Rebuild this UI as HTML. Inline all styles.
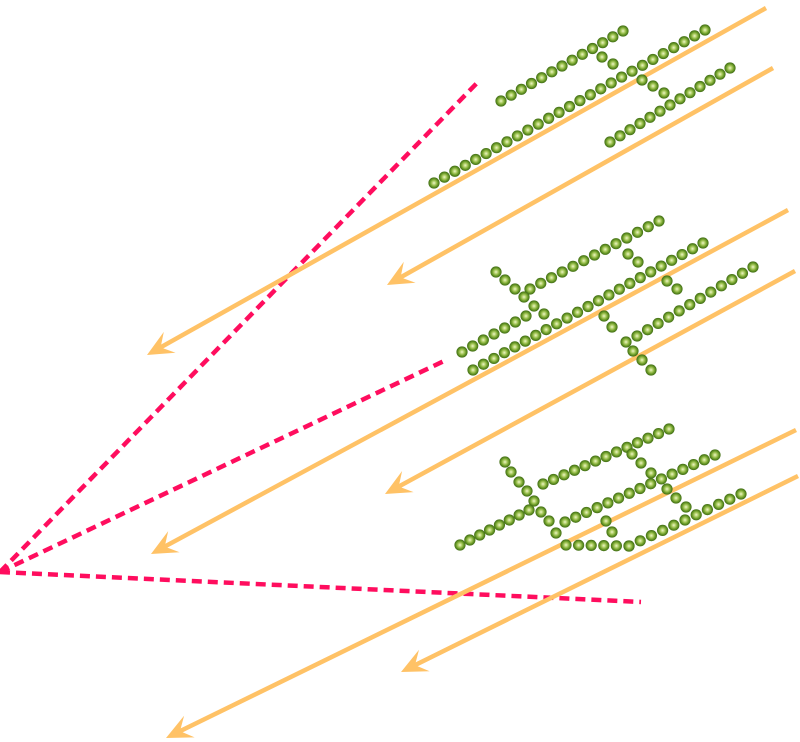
<!DOCTYPE html>
<html><head><style>html,body{margin:0;padding:0;background:#fff}svg{display:block}</style></head>
<body>
<svg id="s" width="800" height="742" viewBox="0 0 800 742" xmlns="http://www.w3.org/2000/svg">
<defs>
<radialGradient id="g"><stop offset="0" stop-color="#eef6c8"/><stop offset="0.4" stop-color="#a6c85a"/><stop offset="0.7" stop-color="#6a9a28"/><stop offset="1" stop-color="#3f6b14"/></radialGradient>
</defs>
<g stroke="#ff0d5e" stroke-width="4.5" stroke-dasharray="10,6" fill="none">
<line x1="0" y1="572" x2="477" y2="83"/>
<line x1="0" y1="572" x2="444" y2="361"/>
<line x1="0" y1="572" x2="641" y2="602"/>
</g>
<g id="arr" stroke="#ffc266" stroke-width="4.5" fill="none"></g>
<g id="beads"></g>
</svg>
<script>
var NS="http://www.w3.org/2000/svg";
var arr=document.getElementById("arr"),bd=document.getElementById("beads");
function arrow(x1,y1,x2,y2){
 var l=document.createElementNS(NS,"line");
 var dx=x2-x1,dy=y2-y1,d=Math.hypot(dx,dy),ux=dx/d,uy=dy/d;
 l.setAttribute("x1",x1);l.setAttribute("y1",y1);l.setAttribute("x2",x2-ux*8);l.setAttribute("y2",y2-uy*8);arr.appendChild(l);
 var px=-uy,py=ux,L=26,W=12;
 var p=[[x2,y2],[x2-ux*L+px*W,y2-uy*L+py*W],[x2-ux*L*0.6,y2-uy*L*0.6],[x2-ux*L-px*W,y2-uy*L-py*W]];
 var pg=document.createElementNS(NS,"polygon");
 pg.setAttribute("points",p.map(function(a){return a.join(",")}).join(" "));
 pg.setAttribute("fill","#ffc266");pg.setAttribute("stroke","none");arr.appendChild(pg);
}
arrow(766,8,147,355);arrow(773,68,387,285);
arrow(788,210,151,554);arrow(795,271,385,494);
arrow(796,430,166,738);arrow(798,476,401,672);
function bead(x,y){var c=document.createElementNS(NS,"circle");c.setAttribute("cx",x);c.setAttribute("cy",y);c.setAttribute("r",5.6);c.setAttribute("fill","url(#g)");bd.appendChild(c);}
function chain(x1,y1,x2,y2){var d=Math.hypot(x2-x1,y2-y1),n=Math.max(1,Math.round(d/11.8));for(var i=0;i<=n;i++)bead(x1+(x2-x1)*i/n,y1+(y2-y1)*i/n);}
function pts(a){for(var i=0;i<a.length;i+=2)bead(a[i],a[i+1]);}
chain(501,101,623,31);pts([602,57,613,64]);
chain(434,183,705,30);pts([642,80,653,86,664,93]);
chain(610,142,730,68);
chain(530,289,659,221);
pts([496,272,505,280,515,289,524,297,534,306,544,314]);
chain(462,352,526,316);
chain(473,370,703,243);
pts([628,254,638,262,667,281,677,289,604,316,612,327]);
chain(637,336,753,267);
pts([626,342,633,351,642,360,651,370]);
chain(543,484,669,429);
pts([505,462,511,472,519,482,527,491,534,501,541,512,549,521,556,533]);
chain(460,545,529,510);
chain(565,522,715,455);
pts([632,454,641,463,651,473,667,489,676,498,686,507,606,521,612,532]);
chain(566,545,629,546);
chain(629,546,741,494);
</script>
</body></html>
